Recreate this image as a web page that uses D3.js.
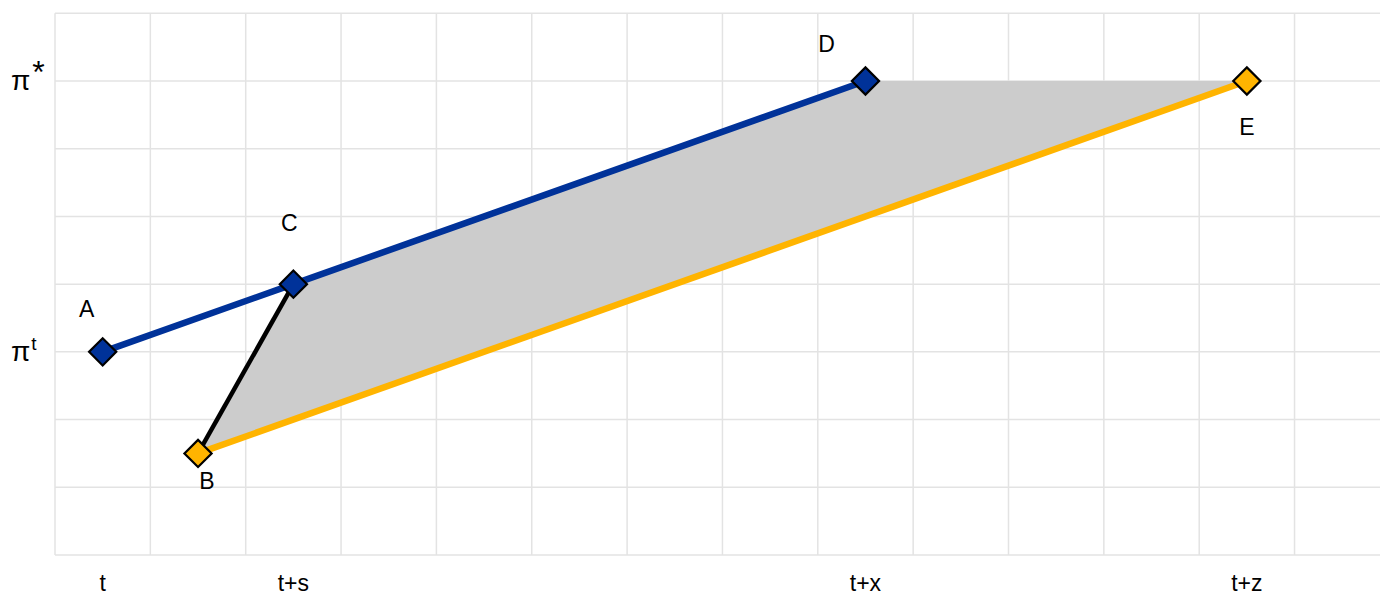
<!DOCTYPE html>
<html><head><meta charset="utf-8">
<script src="https://cdn.jsdelivr.net/npm/d3@7"></script>
<style>body{margin:0;background:#fff}svg{display:block;font-family:"Liberation Sans",Arial,sans-serif}</style>
</head><body><svg id="c" width="1380" height="595"></svg>
<script>
// data
const pointNames = ["A","B","C","D","E"];
const pointX = [0.5, 1.5, 2.5, 8.5, 12.5];
const pointY = [3, 1.5, 4, 7, 7];
const pointSeries = ["blue","yellow","blue","blue","yellow"];
const blueLine = ["A","C","D"];
const yellowLine = ["B","E"];
const blackLine = ["B","C"];
const shadedArea = ["B","C","D","E"];
const xTickValues = [0.5, 2.5, 8.5, 12.5];
const xTickLabels = ["t","t+s","t+x","t+z"];
const yTickValues = [7, 3];
const yTickLabels = [["π","*"],["π","t"]];

const colors = {blue:"#003299", yellow:"#FFB400"};
const W=1380,H=595, m={l:55,t:13,r:0,b:40};
const svg=d3.select("#c");
const x=d3.scaleLinear().domain([0,14]).range([m.l, m.l+14*95.35]);
const y=d3.scaleLinear().domain([0,8]).range([555,13.3]);
const pts={};
pointNames.forEach((n,i)=>pts[n]={x:pointX[i],y:pointY[i],s:pointSeries[i]});

// grid
const g=svg.append("g");
g.selectAll("line.v").data(d3.range(0,15)).join("line")
 .attr("x1",d=>x(d)).attr("x2",d=>x(d)).attr("y1",y(0)).attr("y2",y(8))
 .attr("stroke","#e3e3e3").attr("stroke-width",1.5);
g.selectAll("line.h").data(d3.range(0,9)).join("line")
 .attr("x1",x(0)).attr("x2",W).attr("y1",d=>y(d)).attr("y2",d=>y(d))
 .attr("stroke","#e3e3e3").attr("stroke-width",1.5);

// area
const line=d3.line().x(n=>x(pts[n].x)).y(n=>y(pts[n].y));
svg.append("path").attr("d",line(shadedArea)+"Z").attr("fill","#cccccc");
svg.append("path").attr("d",line(yellowLine)).attr("stroke",colors.yellow).attr("stroke-width",6.5).attr("fill","none");
svg.append("path").attr("d",line(blueLine)).attr("stroke",colors.blue).attr("stroke-width",6.5).attr("fill","none");
svg.append("path").attr("d",line(blackLine)).attr("stroke","#000").attr("stroke-width",4.5).attr("fill","none");

// markers
const sym=d3.symbol().type(d3.symbolSquare).size(370);
svg.selectAll("path.m").data(pointNames).join("path")
 .attr("d",sym()).attr("transform",n=>`translate(${x(pts[n].x)},${y(pts[n].y)}) rotate(45)`)
 .attr("fill",n=>colors[pts[n].s]).attr("stroke","#000").attr("stroke-width",2.2);

// point labels
const off={A:[-16,-35],B:[9,36],C:[-4,-53],D:[-39,-29],E:[0,54]};
svg.selectAll("text.p").data(pointNames).join("text")
 .attr("x",n=>x(pts[n].x)+off[n][0]).attr("y",n=>y(pts[n].y)+off[n][1])
 .attr("text-anchor","middle").attr("font-size",23).attr("fill","#000").text(n=>n);

// x ticks
svg.selectAll("text.xt").data(xTickValues).join("text")
 .attr("x",d=>x(d)).attr("y",591).attr("text-anchor","middle").attr("font-size",23).text((d,i)=>xTickLabels[i]);

// y ticks
yTickValues.forEach((v,i)=>{
  const t=svg.append("text").attr("x",11).attr("y",y(v)+9).attr("font-size",28);
  t.append("tspan").text(yTickLabels[i][0]);
  t.append("tspan").attr("font-size",i===0?32:19).attr("dx",i===0?2:1).attr("dy",i===0?-7:-11).text(yTickLabels[i][1]);
});
</script></body></html>
